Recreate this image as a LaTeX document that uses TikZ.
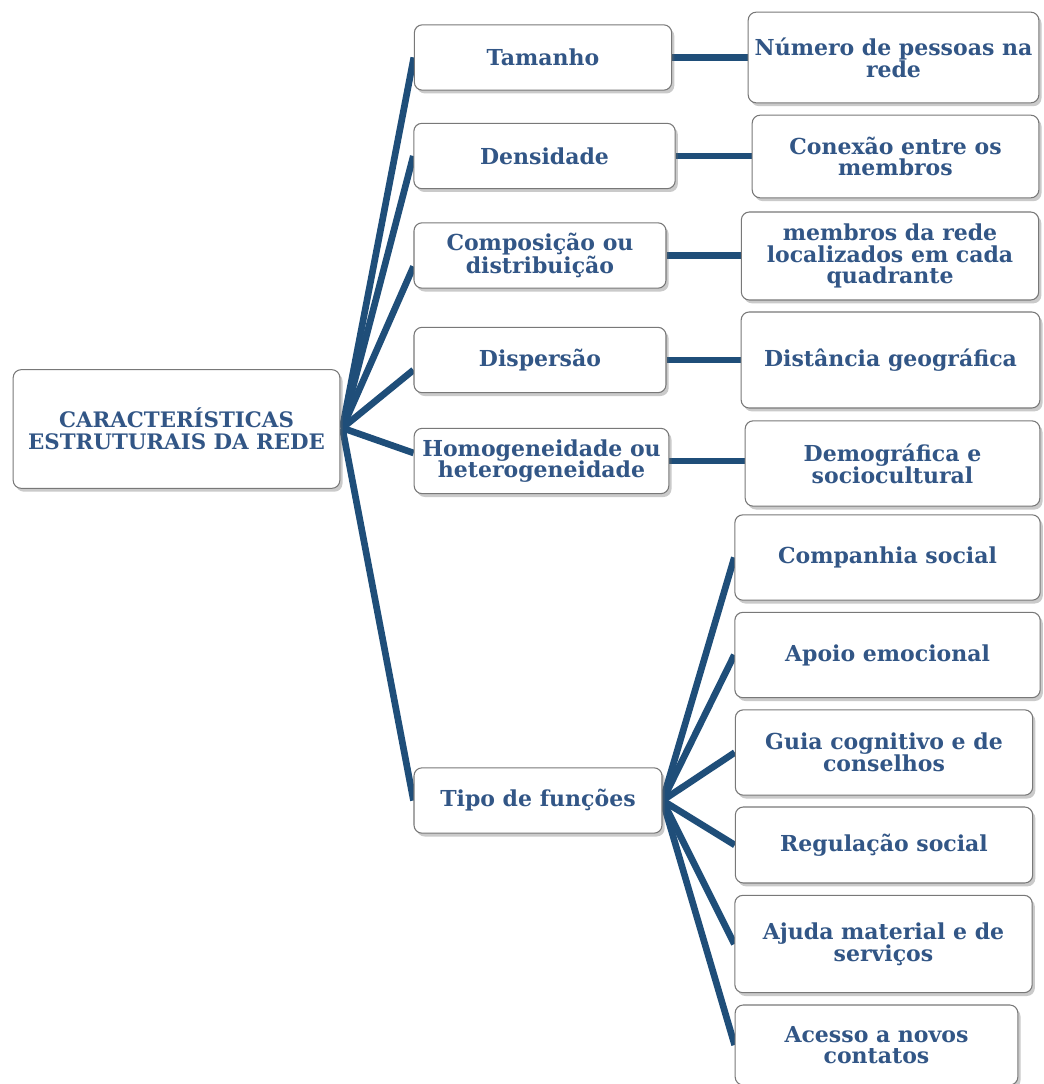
\documentclass[tikz,border=0pt]{standalone}
\usepackage{fontspec}
\setmainfont{DejaVu Serif}
\usetikzlibrary{shadows,backgrounds,calc}
\definecolor{linkblue}{RGB}{31,78,121}
\definecolor{textblue}{RGB}{50,86,134}
\definecolor{boxedge}{RGB}{120,120,120}
\tikzset{
  cardbox/.style={draw=boxedge, line width=0.8pt, rounded corners=6pt, fill=white,
    align=center, inner sep=0pt, text=textblue,
    font=\fontsize{16.5}{16.3}\selectfont\bfseries,
    drop shadow={shadow xshift=2pt, shadow yshift=-2.5pt, opacity=0.35, fill=black!60}},
  link/.style={draw=linkblue, line width=5pt}
}
\begin{document}
\begin{tikzpicture}[x=0.75pt, y=-0.75pt]
\useasboundingbox (0,0) rectangle (1043,1084);
% root
\node[cardbox, minimum width=245pt, minimum height=89pt, font=\fontsize{16}{16.3}\selectfont\bfseries]
  (root) at (176.5,429) {CARACTERÍSTICAS\\ESTRUTURAIS DA REDE};
% structural features
\node[cardbox, minimum width=193pt, minimum height=49pt] (tam)  at (543,57.5)   {Tamanho};
\node[cardbox, minimum width=196pt, minimum height=49pt] (den)  at (544.5,156)  {Densidade};
\node[cardbox, minimum width=189pt, minimum height=49pt] (comp) at (540,255.5)  {Composição ou\\distribuição};
\node[cardbox, minimum width=189pt, minimum height=49pt] (disp) at (540,360)    {Dispersão};
\node[cardbox, minimum width=191pt, minimum height=49pt] (hom)  at (541.5,461)  {Homogeneidade ou\\heterogeneidade};
\node[cardbox, minimum width=186pt, minimum height=49pt] (tipo) at (538,800.5)  {Tipo de funções};
% descriptions
\node[cardbox, minimum width=218pt, minimum height=68pt] (num)  at (893.5,57.5)  {Número de pessoas na\\rede};
\node[cardbox, minimum width=215pt, minimum height=62pt] (con)  at (895.5,156.5) {Conexão entre os\\membros};
\node[cardbox, minimum width=223pt, minimum height=66pt] (mem)  at (890,256)     {membros da rede\\localizados em cada\\quadrante};
\node[cardbox, minimum width=224pt, minimum height=72pt] (dist) at (890.5,360)   {Distância geográfica};
\node[cardbox, minimum width=221pt, minimum height=64pt] (dem)  at (892.5,463.5) {Demográfica e\\sociocultural};
% functions
\node[cardbox, minimum width=229pt, minimum height=64pt] (cs)   at (887.5,557.5) {Companhia social};
\node[cardbox, minimum width=229pt, minimum height=64pt] (ae)   at (887.5,655)   {Apoio emocional};
\node[cardbox, minimum width=223pt, minimum height=64pt] (gc)   at (884,752.5)   {Guia cognitivo e de\\conselhos};
\node[cardbox, minimum width=223pt, minimum height=57pt] (rs)   at (884,845)     {Regulação social};
\node[cardbox, minimum width=223pt, minimum height=73pt] (am)   at (883.5,944)   {Ajuda material e de\\serviços};
\node[cardbox, minimum width=212pt, minimum height=60pt] (an)   at (876.5,1045)  {Acesso a novos\\contatos};
% connectors
\begin{scope}[on background layer]
\coordinate (hub) at ($(root.east)+(2,-1)$);
\draw[link] (hub) -- (tam.west);
\draw[link] (hub) -- (den.west);
\draw[link] (hub) -- ($(comp.west)+(0,11)$);
\draw[link] (hub) -- ($(disp.west)+(0,10)$);
\draw[link] (hub) -- ($(hom.west)+(0,-8)$);
\draw[link] (hub) -- (tipo.west);
\draw[link] (tam.east) -- (tam.east -| num.west);
\draw[link] (den.east) -- (den.east -| con.west);
\draw[link] (comp.east) -- (comp.east -| mem.west);
\draw[link] (disp.east) -- (disp.east -| dist.west);
\draw[link] (hom.east) -- (hom.east -| dem.west);
\coordinate (fan) at (tipo.east);
\foreach \t in {cs,ae,gc,rs,am,an}
  \draw[link] (fan) -- (\t.west);
\end{scope}
\end{tikzpicture}
\end{document}
